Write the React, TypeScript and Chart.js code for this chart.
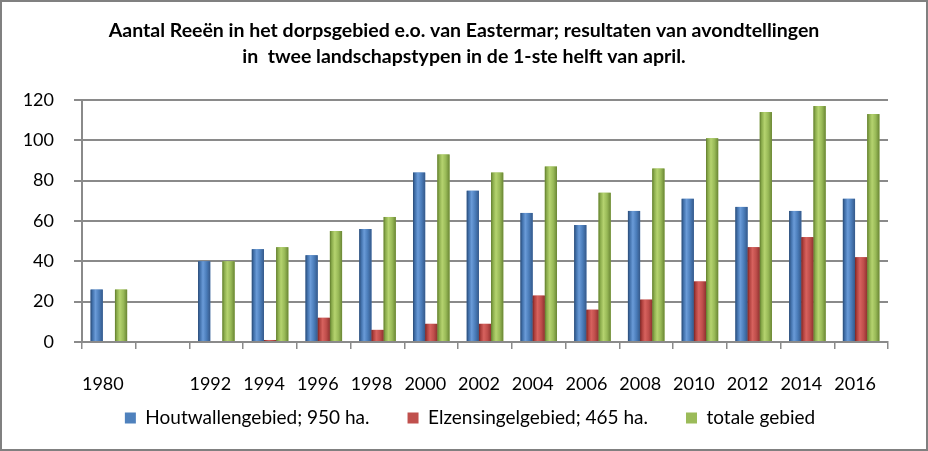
import React, { useEffect, useRef } from "react";
import { Chart, registerables } from "chart.js";

Chart.register(...registerables);

const categories = ["1980", "", "1992", "1994", "1996", "1998", "2000", "2002", "2004", "2006", "2008", "2010", "2012", "2014", "2016"];
const houtwallen = [26, null, 40, 46, 43, 56, 84, 75, 64, 58, 65, 71, 67, 65, 71];
const elzensingel = [0, null, 0, 1, 12, 6, 9, 9, 23, 16, 21, 30, 47, 52, 42];
const totaal = [26, null, 40, 47, 55, 62, 93, 84, 87, 74, 86, 101, 114, 117, 113];

const seriesNames = ["Houtwallengebied; 950 ha.", "Elzensingelgebied; 465 ha.", "totale gebied"];
const titleLines = [
  "Aantal Reeën in het dorpsgebied e.o. van Eastermar; resultaten van avondtellingen",
  "in  twee landschapstypen in de 1-ste helft van april.",
];

const flatColors = ["#4F81BD", "#C0504D", "#9BBB59"];
const gradStops = [
  ["#2b4a73", "#3f6ea8", "#6a9bd8", "#4a7cb9", "#35598a"],
  ["#7a2422", "#ad3f3c", "#d7625e", "#bf4e4b", "#8f3230"],
  ["#5f7a2c", "#8aab4b", "#b5d36f", "#98b957", "#6a8634"],
];
const stopPos = [0, 0.15, 0.4, 0.7, 1];

const cylinderPlugin = {
  id: "cylinder",
  afterDatasetsDraw(chart: any) {
    const ctx = chart.ctx;
    chart.data.datasets.forEach((_ds: any, di: number) => {
      const meta = chart.getDatasetMeta(di);
      meta.data.forEach((bar: any) => {
        const { x, y, base, width } = bar.getProps(["x", "y", "base", "width"], true);
        if (!isFinite(y) || !isFinite(base) || Math.abs(base - y) < 0.5) return;
        const l = x - width / 2;
        const g = ctx.createLinearGradient(l, 0, l + width, 0);
        gradStops[di].forEach((c, i) => g.addColorStop(stopPos[i], c));
        ctx.save();
        ctx.fillStyle = g;
        ctx.fillRect(l, y, width, base - y);
        ctx.restore();
      });
    });
  },
};

// place the title and legend rows relative to the whole picture
const placePlugin = {
  id: "place",
  afterLayout(chart: any) {
    const t = chart.titleBlock;
    if (t) {
      t.left += 19;
      t.right += 19;
    }
    const lg = chart.legend;
    if (lg) {
      const pad = lg.options.labels.padding;
      const fs = lg.options.labels.font.size;
      lg.top = 416 - pad - fs / 2;
      lg.bottom = chart.height;
      lg.height = lg.bottom - lg.top;
      lg.left += 25;
      lg.right += 25;
    }
  },
};

const FONT = "Lato, 'Open Sans', sans-serif";
const GRID = "#8a8a8a";

export default function App() {
  const ref = useRef<HTMLCanvasElement>(null);
  useEffect(() => {
    if (!ref.current) return;
    const chart = new Chart(ref.current, {
      type: "bar",
      data: {
        labels: categories,
        datasets: [
          { label: seriesNames[0], data: houtwallen, backgroundColor: flatColors[0] },
          { label: seriesNames[1], data: elzensingel, backgroundColor: flatColors[1] },
          { label: seriesNames[2], data: totaal, backgroundColor: flatColors[2] },
        ],
      },
      options: {
        responsive: false,
        animation: false,
        devicePixelRatio: 1,
        layout: { padding: { left: 0, right: 38, top: 0, bottom: 0 } },
        datasets: { bar: { categoryPercentage: 0.68, barPercentage: 1 } },
        plugins: {
          tooltip: { enabled: false },
          title: {
            display: true,
            text: titleLines,
            color: "#000",
            font: { family: FONT, size: 19.5, weight: "bold", lineHeight: "26px" },
            padding: { top: 16, bottom: 30 },
          },
          legend: {
            position: "bottom",
            maxHeight: 54,
            labels: {
              color: "#000",
              font: { family: FONT, size: 19 },
              boxWidth: 11,
              boxHeight: 11,
              padding: 38,
            },
          },
        },
        scales: {
          x: {
            afterFit: (s: any) => { s.height = 53; },
            grid: { display: true, drawOnChartArea: false, drawTicks: true, tickLength: 7, color: GRID, lineWidth: 1.5 },
            border: { display: true, color: GRID, width: 2 },
            ticks: { color: "#000", font: { family: FONT, size: 18 }, padding: 24, autoSkip: false, maxRotation: 0, labelOffset: -6 },
          },
          y: {
            min: 0,
            max: 120,
            afterFit: (s: any) => { s.width = 80; },
            ticks: { stepSize: 20, color: "#000", font: { family: FONT, size: 18 }, padding: 20, autoSkip: false },
            grid: { color: GRID, lineWidth: 2, tickLength: 8 },
            border: { display: true, color: GRID, width: 2 },
          },
        },
      },
      plugins: [cylinderPlugin, placePlugin],
    });
    return () => chart.destroy();
  }, []);

  return (
    <div
      style={{
        position: "absolute",
        left: 0,
        top: 0,
        width: 928,
        height: 451,
        boxSizing: "border-box",
        border: "2px solid #808080",
        background: "#fff",
      }}
    >
      <canvas ref={ref} width={924} height={447} style={{ display: "block" }} />
    </div>
  );
}
